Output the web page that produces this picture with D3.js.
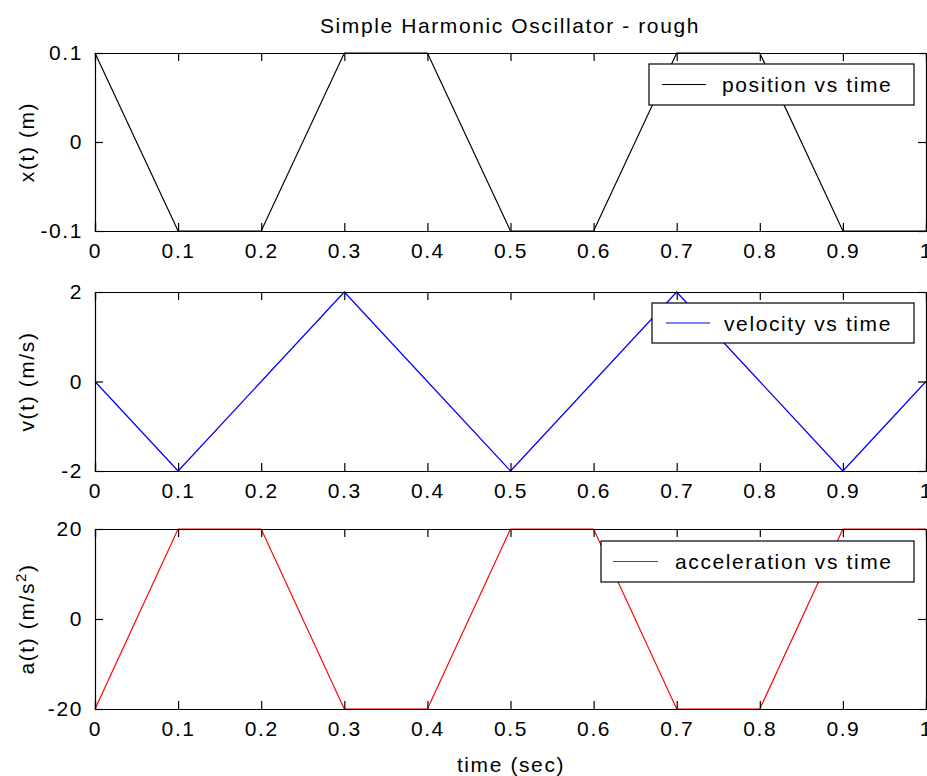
<!DOCTYPE html>
<html><head><meta charset="utf-8">
<script src="https://cdn.jsdelivr.net/npm/d3@7"></script>
<style>
body{margin:0;background:#fff;}
svg text{font-family:"Liberation Sans",Arial,sans-serif;fill:#000;}
</style></head>
<body><svg id="c" width="927" height="776"></svg>
<script>
const time = [0,0.1,0.2,0.3,0.4,0.5,0.6,0.7,0.8,0.9,1.0];
const position = [0.1,-0.1,-0.1,0.1,0.1,-0.1,-0.1,0.1,0.1,-0.1,-0.1];
const velocity = [0,-2,0,2,0,-2,0,2,0,-2,0];
const acceleration = [-20,20,20,-20,-20,20,20,-20,-20,20,20];
const xTicks = [0,0.1,0.2,0.3,0.4,0.5,0.6,0.7,0.8,0.9,1];
const posTicks = [-0.1,0,0.1];
const velTicks = [-2,0,2];
const accTicks = [-20,0,20];

const svg = d3.select("#c");
const FS = 21, LS = "1.6px";
const fmt = d => d3.format("~g")(d).replace("\u2212","-");
const x = d3.scaleLinear().domain([0,1]).range([95,926]);

const panels = [
  {top:53, bottom:231, data:position, dom:[-0.1,0.1], ticks:posTicks, color:"#000000", label:"x(t) (m)", legend:"position vs time", lg:{x0:649,x1:914,y0:64,y1:105,l0:662,l1:706,tx:722}},
  {top:292, bottom:471, data:velocity, dom:[-2,2], ticks:velTicks, color:"#0000ff", label:"v(t) (m/s)", legend:"velocity vs time", lg:{x0:652,x1:914,y0:303,y1:343,l0:666,l1:710,tx:724}},
  {top:529, bottom:709, data:acceleration, dom:[-20,20], ticks:accTicks, color:"#ff0000", label:"a(t) (m/s2)", legend:"acceleration vs time", lg:{x0:601,x1:914,y0:541,y1:582,l0:613,l1:658,tx:675}}
];

panels.forEach((p,i)=>{
  const y = d3.scaleLinear().domain(p.dom).range([p.bottom,p.top]);
  const g = svg.append("g");
  g.append("path").datum(time.map((t,k)=>[t,p.data[k]]))
    .attr("fill","none").attr("stroke",p.color).attr("stroke-width",1.2)
    .attr("d", d3.line().x(d=>x(d[0])).y(d=>y(d[1])));
  const bx = g.append("g").attr("transform",`translate(0,${p.bottom})`)
    .call(d3.axisBottom(x).tickValues(xTicks).tickSize(-8).tickPadding(12).tickFormat(fmt));
  const tx = g.append("g").attr("transform",`translate(0,${p.top})`)
    .call(d3.axisTop(x).tickValues(xTicks).tickSize(-8).tickFormat(""));
  const ly = g.append("g").attr("transform",`translate(95,0)`)
    .call(d3.axisLeft(y).tickValues(p.ticks).tickSize(-8).tickPadding(12).tickFormat(fmt));
  const ry = g.append("g").attr("transform",`translate(926,0)`)
    .call(d3.axisRight(y).tickValues(p.ticks).tickSize(-8).tickFormat(""));
  [bx,tx,ly,ry].forEach(a=>{
    a.select(".domain").attr("stroke","#000").attr("stroke-width",1.2);
    a.selectAll(".tick line").attr("stroke","#000").attr("stroke-width",1.2);
    a.selectAll("text").style("font-size",FS+"px").style("letter-spacing",LS).style("font-family","Liberation Sans, Arial, sans-serif");
  });
  const L = p.lg;
  g.append("rect").attr("x",L.x0).attr("y",L.y0).attr("width",L.x1-L.x0).attr("height",L.y1-L.y0)
    .attr("fill","#fff").attr("stroke","#000").attr("stroke-width",1.2);
  const ym = (L.y0+L.y1)/2;
  g.append("line").attr("x1",L.l0).attr("x2",L.l1).attr("y1",ym).attr("y2",ym).attr("stroke",p.color).attr("stroke-width",1.2);
  g.append("text").attr("x",L.tx).attr("y",ym).attr("dy","0.36em")
    .style("font-size",FS+"px").style("letter-spacing",LS).text(p.legend);
  const cy = (p.top+p.bottom)/2;
  const yl = g.append("text").attr("transform",`translate(34,${cy}) rotate(-90)`).attr("text-anchor","middle")
    .style("font-size",FS+"px").style("letter-spacing",LS);
  if(i===2){
    yl.append("tspan").text("a(t) (m/s");
    yl.append("tspan").attr("baseline-shift","super").style("font-size","15px").text("2");
    yl.append("tspan").text(")");
  } else yl.text(p.label);
});

svg.append("text").attr("x",510).attr("y",33).attr("text-anchor","middle")
  .style("font-size",FS+"px").style("letter-spacing",LS).text("Simple Harmonic Oscillator - rough");
svg.append("text").attr("x",511).attr("y",772).attr("text-anchor","middle")
  .style("font-size",FS+"px").style("letter-spacing",LS).text("time (sec)");
</script></body></html>
